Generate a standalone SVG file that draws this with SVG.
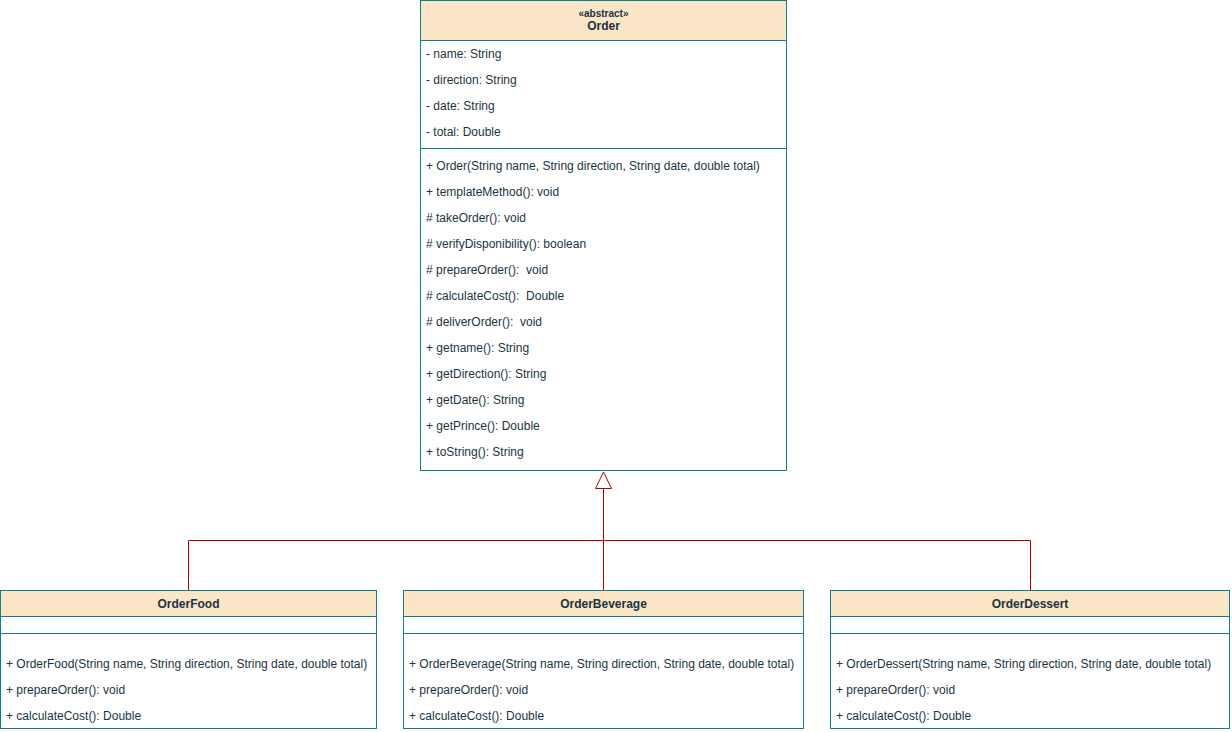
<svg xmlns="http://www.w3.org/2000/svg" width="1232" height="732" viewBox="0 0 1232 732">
<style>
.box{fill:#ffffff;stroke:#0e8088;stroke-width:1}
.hd{fill:#fae5c7;stroke:#0e8088;stroke-width:1}
.div{stroke:#0e8088;stroke-width:1}
text{font-family:"Liberation Sans",Arial,sans-serif;font-size:12px;fill:#1a3442}
.t{font-weight:bold;text-anchor:middle}
.st{font-weight:bold;text-anchor:middle;font-size:10px}
.c{fill:none;stroke:#b20000;stroke-width:1}
</style>
<rect width="1232" height="732" fill="#ffffff"/>
<g id="Order">
<rect class="box" x="420.5" y="0.5" width="366" height="470"/>
<rect class="hd" x="420.5" y="0.5" width="366" height="40"/>
<text class="st" x="603.5" y="17">«abstract»</text>
<text class="t" x="603.5" y="30">Order</text>
<text x="426" y="58">- name: String</text>
<text x="426" y="84">- direction: String</text>
<text x="426" y="110">- date: String</text>
<text x="426" y="136">- total: Double</text>
<line class="div" x1="420.5" y1="148.5" x2="786.5" y2="148.5"/>
<text x="426" y="170">+ Order(String name, String direction, String date, double total)</text>
<text x="426" y="196">+ templateMethod(): void</text>
<text x="426" y="222"># takeOrder(): void</text>
<text x="426" y="248"># verifyDisponibility(): boolean</text>
<text x="426" y="274" xml:space="preserve"># prepareOrder():  void</text>
<text x="426" y="300" xml:space="preserve"># calculateCost():  Double</text>
<text x="426" y="326" xml:space="preserve"># deliverOrder():  void</text>
<text x="426" y="352">+ getname(): String</text>
<text x="426" y="378">+ getDirection(): String</text>
<text x="426" y="404">+ getDate(): String</text>
<text x="426" y="430">+ getPrince(): Double</text>
<text x="426" y="456">+ toString(): String</text>
</g>
<g id="OrderFood">
<rect class="box" x="0.5" y="590.5" width="376" height="138"/>
<rect class="hd" x="0.5" y="590.5" width="376" height="26"/>
<text class="t" x="188.5" y="608">OrderFood</text>
<line class="div" x1="0.5" y1="633.5" x2="376.5" y2="633.5"/>
<text x="6" y="668">+ OrderFood(String name, String direction, String date, double total)</text>
<text x="6" y="694">+ prepareOrder(): void</text>
<text x="6" y="720">+ calculateCost(): Double</text>
</g>
<g id="OrderBeverage">
<rect class="box" x="403.5" y="590.5" width="400" height="138"/>
<rect class="hd" x="403.5" y="590.5" width="400" height="26"/>
<text class="t" x="603.5" y="608">OrderBeverage</text>
<line class="div" x1="403.5" y1="633.5" x2="803.5" y2="633.5"/>
<text x="409" y="668">+ OrderBeverage(String name, String direction, String date, double total)</text>
<text x="409" y="694">+ prepareOrder(): void</text>
<text x="409" y="720">+ calculateCost(): Double</text>
</g>
<g id="OrderDessert">
<rect class="box" x="830.5" y="590.5" width="399" height="138"/>
<rect class="hd" x="830.5" y="590.5" width="399" height="26"/>
<text class="t" x="1030" y="608">OrderDessert</text>
<line class="div" x1="830.5" y1="633.5" x2="1229.5" y2="633.5"/>
<text x="836" y="668">+ OrderDessert(String name, String direction, String date, double total)</text>
<text x="836" y="694">+ prepareOrder(): void</text>
<text x="836" y="720">+ calculateCost(): Double</text>
</g>
<g id="connectors">
<path class="c" d="M603.5 590 V488.5"/>
<path class="c" d="M188.5 590 V540.5 H1030.5 V590"/>
<polygon class="c" points="603.5,472 595.5,488.5 611.5,488.5"/>
</g>
</svg>
